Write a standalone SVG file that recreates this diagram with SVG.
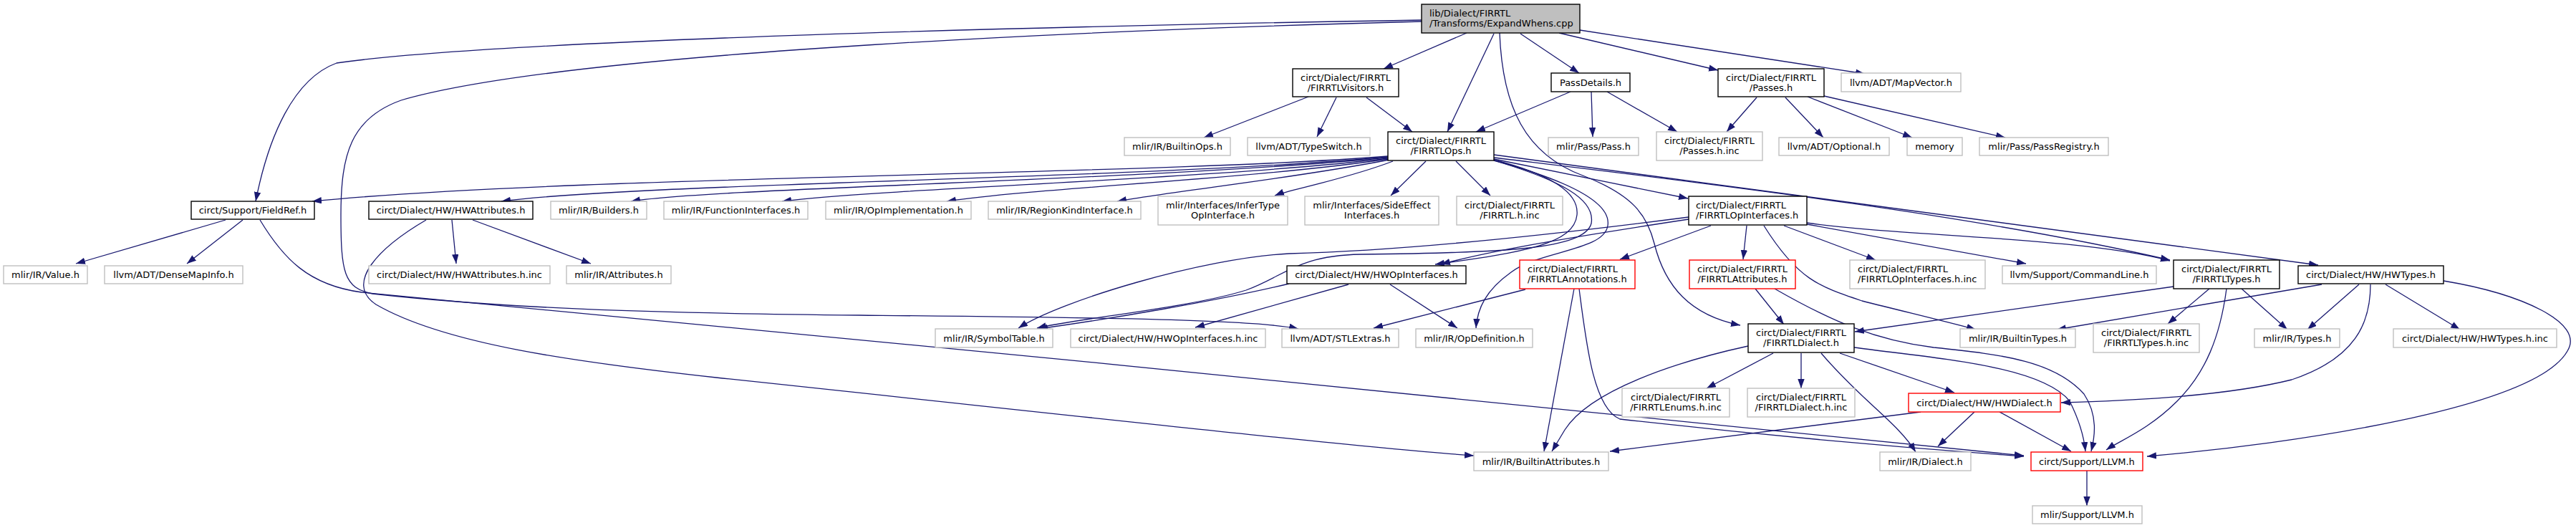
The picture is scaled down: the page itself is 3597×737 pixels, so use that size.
<svg xmlns="http://www.w3.org/2000/svg" width="3597" height="737" viewBox="0 0 3597 737">
<style>
rect.n{fill:#fff;stroke-width:1.4}
.b{stroke:#000}
.g{stroke:#bfbfbf}
.r{stroke:#ff0000}
.m{fill:#bfbfbf !important;stroke:#000}
text{font-family:"DejaVu Sans","Liberation Sans",sans-serif;font-size:13px;fill:#000}
.c{text-anchor:middle}
#edges path{fill:none;stroke:#191970;stroke-width:1.3;marker-end:url(#a)}
</style>
<defs>
<marker id="a" markerUnits="userSpaceOnUse" markerWidth="14" markerHeight="10" refX="13" refY="4.7" orient="auto"><path d="M0,0 L13,4.7 L0,9.4 z" fill="#191970" stroke="none"/></marker>
</defs>
<rect width="3597" height="737" fill="#fff"/>
<g id="edges">
<path d="M2048,46 L1932,96"/>
<path d="M2086,47 L2021,184"/>
<path d="M2123,47 L2205,102"/>
<path d="M2177,46 L2399,98"/>
<path d="M2206,42 L2604,103"/>
<path d="M1985,28 C1500,36 700,55 470,88 C410,110 375,190 357,281"/>
<path d="M1985,30 C1600,40 800,70 560,140 C490,165 476,215 476,300 C476,380 480,402 520,410 C700,430 900,437 1200,440 C1500,443 1750,445 1813,459"/>
<path d="M2094,46 C2098,150 2130,215 2210,245 C2280,272 2300,300 2310,340 C2325,400 2360,440 2430,454"/>
<path d="M1827,135 L1681,192"/>
<path d="M1866,136 L1839,191"/>
<path d="M1908,136 L1972,184"/>
<path d="M2193,128 L2061,184"/>
<path d="M2222,128 L2224,191"/>
<path d="M2244,128 L2342,184"/>
<path d="M2453,136 L2411,184"/>
<path d="M2493,136 L2546,192"/>
<path d="M2524,135 L2670,192"/>
<path d="M2547,134 L2800,192"/>
<path d="M1938,218 C1600,245 800,245 436,281"/>
<path d="M1938,219 C1600,250 900,255 700,281"/>
<path d="M1938,220 C1600,252 1000,262 881,281"/>
<path d="M1938,221 C1700,250 1250,262 1092,281"/>
<path d="M1938,222 C1750,250 1450,262 1322,281"/>
<path d="M1940,223 C1800,250 1650,265 1560,281"/>
<path d="M1945,225 C1880,250 1800,265 1780,273"/>
<path d="M1991,225 L1942,273"/>
<path d="M2033,225 L2081,273"/>
<path d="M2086,222 C2200,245 2300,265 2357,277"/>
<path d="M2086,216 L3237,370"/>
<path d="M2086,220 C2350,252 2750,298 3030,363"/>
<path d="M2086,223 C2170,245 2205,270 2202,300 C2198,340 2130,352 2004,369"/>
<path d="M2086,224 C2180,252 2228,278 2222,312 C2212,348 2100,353 1900,355 C1810,357 1795,385 1740,405 C1660,430 1500,445 1448,458"/>
<path d="M2086,224 C2200,255 2250,285 2245,315 C2240,350 2150,350 2110,380 C2075,405 2063,430 2061,458"/>
<path d="M2358,303 C2150,330 1950,350 1800,354 C1680,360 1480,420 1422,458"/>
<path d="M2358,306 C2200,330 2080,350 2012,369"/>
<path d="M2389,315 L2262,362"/>
<path d="M2439,315 L2434,362"/>
<path d="M2491,315 L2619,363"/>
<path d="M2523,313 L2829,368"/>
<path d="M2523,311 C2650,330 2900,330 3030,364"/>
<path d="M2463,315 C2510,390 2540,400 2600,420 C2680,440 2730,452 2759,460"/>
<path d="M315,307 L106,368"/>
<path d="M339,307 L261,368"/>
<path d="M363,307 C395,360 430,398 505,408 C1200,470 2500,605 2826,636"/>
<path d="M631,307 L637,368"/>
<path d="M660,307 L825,368"/>
<path d="M595,307 C530,345 480,395 525,425 C620,480 800,505 1000,527 C1500,580 1900,625 2058,636"/>
<path d="M1800,396 C1700,420 1550,445 1450,459"/>
<path d="M1883,397 L1669,457"/>
<path d="M1941,397 L2035,458"/>
<path d="M2130,404 L1918,458"/>
<path d="M2198,403 L2156,630"/>
<path d="M2205,403 C2215,480 2225,570 2262,585 C2500,612 2700,628 2826,637"/>
<path d="M2451,403 L2491,453"/>
<path d="M2478,403 C2560,450 2620,475 2700,485 C2800,495 2870,505 2910,550 C2930,580 2925,610 2920,630"/>
<path d="M2441,483 C2340,505 2220,545 2185,600 L2167,630"/>
<path d="M2476,493 L2383,542"/>
<path d="M2515,493 L2515,542"/>
<path d="M2543,493 C2600,560 2650,590 2675,631"/>
<path d="M2569,493 L2729,548"/>
<path d="M2589,485 C2700,500 2850,510 2890,560 C2905,590 2910,610 2912,630"/>
<path d="M2682,575 L2248,630"/>
<path d="M2757,575 L2706,623"/>
<path d="M2792,575 L2892,630"/>
<path d="M3035,400 L2590,463"/>
<path d="M3085,403 L3027,452"/>
<path d="M3130,403 L3194,460"/>
<path d="M3109,403 C3100,470 3080,520 3040,560 C3000,600 2960,615 2941,628"/>
<path d="M3242,397 L2872,460"/>
<path d="M3294,397 L3222,460"/>
<path d="M3331,397 L3435,460"/>
<path d="M3310,397 C3310,450 3290,500 3200,530 C3100,555 2950,560 2878,562"/>
<path d="M3412,392 C3520,410 3610,450 3585,490 C3540,570 3200,620 2998,637"/>
<path d="M2914,657 L2914,706"/>
</g>
<g id="n0"><rect class="n m" x="1985" y="6" width="221" height="40"/><text x="1996" y="23">lib/Dialect/FIRRTL</text><text x="1996" y="37">/Transforms/ExpandWhens.cpp</text></g>
<g id="n1"><rect class="n b" x="1805" y="96" width="148" height="39"/><text class="c" x="1879" y="113">circt/Dialect/FIRRTL</text><text class="c" x="1879" y="127">/FIRRTLVisitors.h</text></g>
<g id="n2"><rect class="n b" x="2166" y="102" width="110" height="26"/><text class="c" x="2221" y="119.5">PassDetails.h</text></g>
<g id="n3"><rect class="n b" x="2399" y="96" width="148" height="39"/><text class="c" x="2473" y="113">circt/Dialect/FIRRTL</text><text class="c" x="2473" y="127">/Passes.h</text></g>
<g id="n4"><rect class="n g" x="2571" y="102" width="167" height="26"/><text class="c" x="2654.5" y="119.5">llvm/ADT/MapVector.h</text></g>
<g id="n5"><rect class="n g" x="1570" y="192" width="148" height="25"/><text class="c" x="1644" y="209">mlir/IR/BuiltinOps.h</text></g>
<g id="n6"><rect class="n g" x="1742" y="192" width="171" height="25"/><text class="c" x="1827.5" y="209">llvm/ADT/TypeSwitch.h</text></g>
<g id="n7"><rect class="n b" x="1938" y="184" width="148" height="40"/><text class="c" x="2012" y="201">circt/Dialect/FIRRTL</text><text class="c" x="2012" y="215">/FIRRTLOps.h</text></g>
<g id="n8"><rect class="n g" x="2162" y="192" width="126" height="25"/><text class="c" x="2225" y="209">mlir/Pass/Pass.h</text></g>
<g id="n9"><rect class="n g" x="2313" y="184" width="148" height="40"/><text class="c" x="2387" y="201">circt/Dialect/FIRRTL</text><text class="c" x="2387" y="215">/Passes.h.inc</text></g>
<g id="n10"><rect class="n g" x="2484" y="192" width="154" height="25"/><text class="c" x="2561" y="209">llvm/ADT/Optional.h</text></g>
<g id="n11"><rect class="n g" x="2663" y="192" width="77" height="25"/><text class="c" x="2701.5" y="209">memory</text></g>
<g id="n12"><rect class="n g" x="2764" y="192" width="180" height="25"/><text class="c" x="2854" y="209">mlir/Pass/PassRegistry.h</text></g>
<g id="n13"><rect class="n b" x="267" y="281" width="172" height="25"/><text class="c" x="353" y="298">circt/Support/FieldRef.h</text></g>
<g id="n14"><rect class="n b" x="515" y="281" width="229" height="25"/><text class="c" x="629.5" y="298">circt/Dialect/HW/HWAttributes.h</text></g>
<g id="n15"><rect class="n g" x="769" y="281" width="134" height="25"/><text class="c" x="836" y="298">mlir/IR/Builders.h</text></g>
<g id="n16"><rect class="n g" x="927" y="281" width="201" height="25"/><text class="c" x="1027.5" y="298">mlir/IR/FunctionInterfaces.h</text></g>
<g id="n17"><rect class="n g" x="1153" y="281" width="203" height="25"/><text class="c" x="1254.5" y="298">mlir/IR/OpImplementation.h</text></g>
<g id="n18"><rect class="n g" x="1380" y="281" width="213" height="25"/><text class="c" x="1486.5" y="298">mlir/IR/RegionKindInterface.h</text></g>
<g id="n19"><rect class="n g" x="1617" y="274" width="181" height="40"/><text class="c" x="1707.5" y="291">mlir/Interfaces/InferType</text><text class="c" x="1707.5" y="305">OpInterface.h</text></g>
<g id="n20"><rect class="n g" x="1822" y="274" width="187" height="40"/><text class="c" x="1915.5" y="291">mlir/Interfaces/SideEffect</text><text class="c" x="1915.5" y="305">Interfaces.h</text></g>
<g id="n21"><rect class="n g" x="2034" y="274" width="148" height="40"/><text class="c" x="2108" y="291">circt/Dialect/FIRRTL</text><text class="c" x="2108" y="305">/FIRRTL.h.inc</text></g>
<g id="n22"><rect class="n b" x="2358" y="274" width="165" height="40"/><text x="2368" y="291">circt/Dialect/FIRRTL</text><text x="2368" y="305">/FIRRTLOpInterfaces.h</text></g>
<g id="n23"><rect class="n g" x="5" y="371" width="117" height="25"/><text class="c" x="63.5" y="388">mlir/IR/Value.h</text></g>
<g id="n24"><rect class="n g" x="146" y="371" width="193" height="25"/><text class="c" x="242.5" y="388">llvm/ADT/DenseMapInfo.h</text></g>
<g id="n25"><rect class="n g" x="515" y="371" width="253" height="25"/><text class="c" x="641.5" y="388">circt/Dialect/HW/HWAttributes.h.inc</text></g>
<g id="n26"><rect class="n g" x="791" y="371" width="146" height="25"/><text class="c" x="864" y="388">mlir/IR/Attributes.h</text></g>
<g id="n27"><rect class="n b" x="1797" y="371" width="250" height="25"/><text class="c" x="1922" y="388">circt/Dialect/HW/HWOpInterfaces.h</text></g>
<g id="n28"><rect class="n r" x="2122" y="363" width="161" height="40"/><text x="2133" y="380">circt/Dialect/FIRRTL</text><text x="2133" y="394">/FIRRTLAnnotations.h</text></g>
<g id="n29"><rect class="n r" x="2359" y="363" width="148" height="40"/><text class="c" x="2433" y="380">circt/Dialect/FIRRTL</text><text class="c" x="2433" y="394">/FIRRTLAttributes.h</text></g>
<g id="n30"><rect class="n g" x="2583" y="363" width="189" height="40"/><text x="2594" y="380">circt/Dialect/FIRRTL</text><text x="2594" y="394">/FIRRTLOpInterfaces.h.inc</text></g>
<g id="n31"><rect class="n g" x="2796" y="371" width="215" height="25"/><text class="c" x="2903.5" y="388">llvm/Support/CommandLine.h</text></g>
<g id="n32"><rect class="n b" x="3035" y="363" width="148" height="40"/><text class="c" x="3109" y="380">circt/Dialect/FIRRTL</text><text class="c" x="3109" y="394">/FIRRTLTypes.h</text></g>
<g id="n33"><rect class="n b" x="3209" y="371" width="203" height="25"/><text class="c" x="3310.5" y="388">circt/Dialect/HW/HWTypes.h</text></g>
<g id="n34"><rect class="n g" x="1306" y="459" width="164" height="26"/><text class="c" x="1388" y="476.5">mlir/IR/SymbolTable.h</text></g>
<g id="n35"><rect class="n g" x="1495" y="459" width="272" height="26"/><text class="c" x="1631" y="476.5">circt/Dialect/HW/HWOpInterfaces.h.inc</text></g>
<g id="n36"><rect class="n g" x="1790" y="459" width="163" height="26"/><text class="c" x="1871.5" y="476.5">llvm/ADT/STLExtras.h</text></g>
<g id="n37"><rect class="n g" x="1977" y="459" width="163" height="26"/><text class="c" x="2058.5" y="476.5">mlir/IR/OpDefinition.h</text></g>
<g id="n38"><rect class="n b" x="2441" y="452" width="148" height="40"/><text class="c" x="2515" y="469">circt/Dialect/FIRRTL</text><text class="c" x="2515" y="483">/FIRRTLDialect.h</text></g>
<g id="n39"><rect class="n g" x="2737" y="459" width="161" height="26"/><text class="c" x="2817.5" y="476.5">mlir/IR/BuiltinTypes.h</text></g>
<g id="n40"><rect class="n g" x="2923" y="452" width="148" height="40"/><text class="c" x="2997" y="469">circt/Dialect/FIRRTL</text><text class="c" x="2997" y="483">/FIRRTLTypes.h.inc</text></g>
<g id="n41"><rect class="n g" x="3148" y="459" width="119" height="26"/><text class="c" x="3207.5" y="476.5">mlir/IR/Types.h</text></g>
<g id="n42"><rect class="n g" x="3342" y="459" width="228" height="26"/><text class="c" x="3456" y="476.5">circt/Dialect/HW/HWTypes.h.inc</text></g>
<g id="n43"><rect class="n g" x="2265" y="542" width="150" height="40"/><text class="c" x="2340" y="559">circt/Dialect/FIRRTL</text><text class="c" x="2340" y="573">/FIRRTLEnums.h.inc</text></g>
<g id="n44"><rect class="n g" x="2440" y="542" width="150" height="40"/><text class="c" x="2515" y="559">circt/Dialect/FIRRTL</text><text class="c" x="2515" y="573">/FIRRTLDialect.h.inc</text></g>
<g id="n45"><rect class="n r" x="2665" y="549" width="212" height="26"/><text class="c" x="2771" y="566.5">circt/Dialect/HW/HWDialect.h</text></g>
<g id="n46"><rect class="n g" x="2058" y="631" width="188" height="26"/><text class="c" x="2152" y="648.5">mlir/IR/BuiltinAttributes.h</text></g>
<g id="n47"><rect class="n g" x="2625" y="631" width="127" height="26"/><text class="c" x="2688.5" y="648.5">mlir/IR/Dialect.h</text></g>
<g id="n48"><rect class="n r" x="2836" y="631" width="156" height="26"/><text class="c" x="2914" y="648.5">circt/Support/LLVM.h</text></g>
<g id="n49"><rect class="n g" x="2838" y="706" width="153" height="25"/><text class="c" x="2914.5" y="723">mlir/Support/LLVM.h</text></g>
</svg>
